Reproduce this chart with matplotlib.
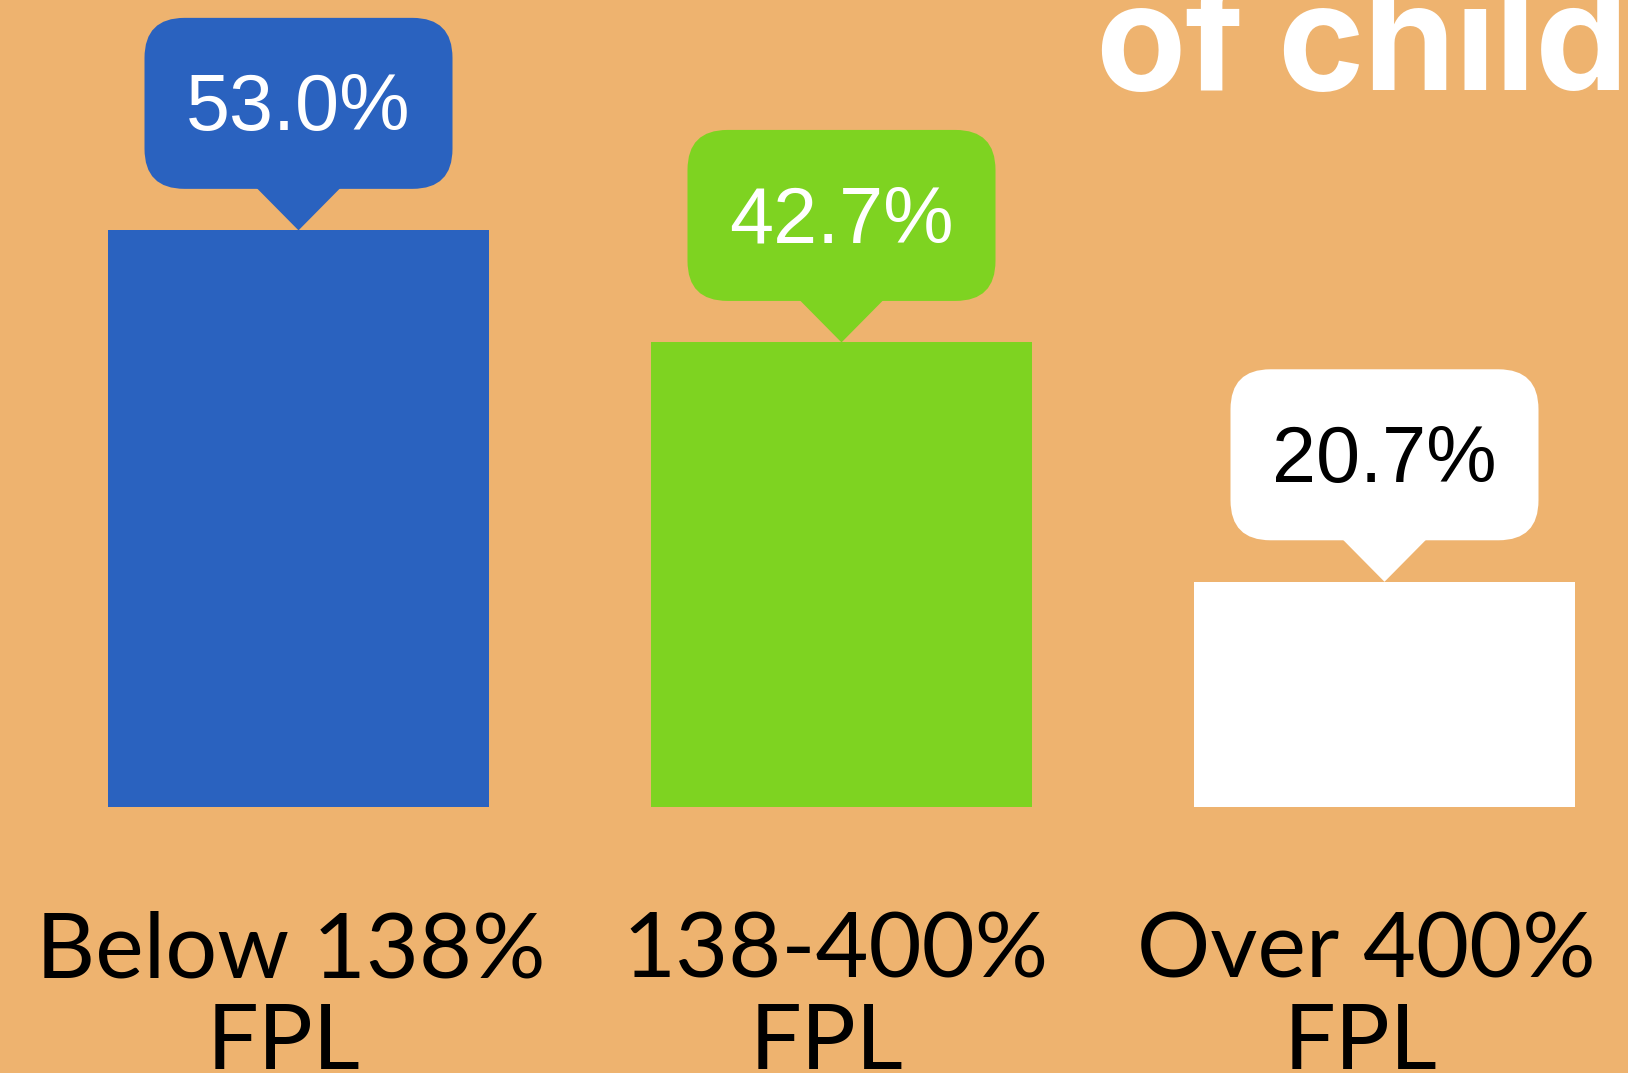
import matplotlib
matplotlib.use("Agg")
import matplotlib.pyplot as plt
import matplotlib.transforms as mtransforms
from matplotlib.patches import FancyBboxPatch, Polygon

categories_line1 = ["Below 138%", "138-400%", "Over 400%"]
categories_line2 = ["FPL", "FPL", "FPL"]
values = [53.0, 42.7, 20.7]
value_labels = ["53.0%", "42.7%", "20.7%"]
bar_colors = ["#2A62BF", "#7ED321", "#FFFFFF"]
label_colors = ["#FFFFFF", "#FFFFFF", "#000000"]
title_words = ["of", "children"]

BG = "#EEB36F"
W, H, DPI = 1628, 1073, 100

fig = plt.figure(figsize=(W / DPI, H / DPI), dpi=DPI, facecolor=BG)
ax = fig.add_axes([0, 0, 1, 1])
ax.set_facecolor(BG)
ax.axis("off")

# scale: baseline at 807 px from top, 10.88 px per unit; bar spacing 543 px
px_per_unit = 10.88
base_from_bottom = H - 807
ax.set_ylim(-base_from_bottom / px_per_unit, (H - base_from_bottom) / px_per_unit)
ax.set_xlim(-298.5 / 543, (W - 298.5) / 543)

x = list(range(len(values)))
ax.bar(x, values, width=381 / 543, color=bar_colors, linewidth=0, zorder=2)

# callout bubbles (pixel offsets from bar top)
bw, bh, gap, rad, ptr = 308, 171, 41.5, 40, 42
for xi, v, c, lc, lab in zip(x, values, bar_colors, label_colors, value_labels):
    tr = mtransforms.ScaledTranslation(xi, v, ax.transData)
    box = FancyBboxPatch((-bw / 2 + rad, gap + rad), bw - 2 * rad, bh - 2 * rad,
                         boxstyle=f"round,pad={rad},rounding_size={rad}",
                         facecolor=c, edgecolor="none", transform=tr, zorder=3)
    fig.add_artist(box)
    tri = Polygon([(-ptr, gap + 1), (ptr, gap + 1), (0, 0)], closed=True,
                  facecolor=c, edgecolor="none", transform=tr, zorder=3)
    fig.add_artist(tri)
    fig.text(0, gap + 58.5, lab, transform=tr, ha="center", va="baseline",
             color=lc, fontsize=57, family="Liberation Sans", zorder=4)

# category labels (two lines, each centred slightly left of the bar centre)
line1_dx = [-7.7, -6.5, -18]
line2_dx = [-14.7, -15.5, -23.5]
for xi, l1, l2, d1, d2 in zip(x, categories_line1, categories_line2, line1_dx, line2_dx):
    t1 = mtransforms.ScaledTranslation(xi, 0, ax.transData)
    fig.text(d1, -(977 - 807), l1, transform=t1, ha="center", va="baseline",
             fontsize=66, family="Lato", color="black")
    fig.text(d2, -(1069 - 807), l2, transform=t1, ha="center", va="baseline",
             fontsize=66, family="Lato", color="black")

# clipped title (only partly visible in the frame)
for word, wx in zip(title_words, [1095, 1277]):
    fig.text(wx / W, 1 - 90 / H, word, ha="left", va="baseline",
             fontsize=106, family="Inter", fontweight="bold", color="white")

fig.savefig("out.png", dpi=DPI, facecolor=BG)
